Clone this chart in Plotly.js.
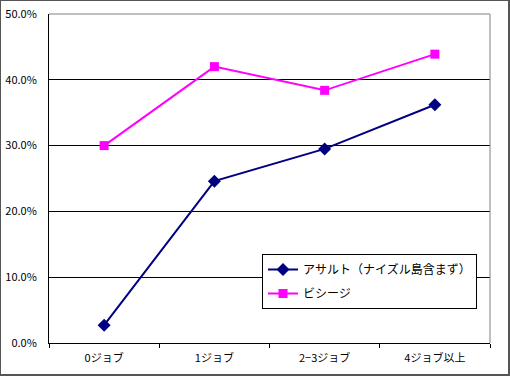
<!DOCTYPE html>
<html>
<head>
<meta charset="utf-8">
<script src="https://cdn.plot.ly/plotly-3.0.1.min.js"></script>
<style>
html,body{margin:0;padding:0;background:#fff;}
#wrap{position:relative;width:510px;height:376px;}
#chart{width:510px;height:376px;}
#frame{position:absolute;left:0;top:0;width:507px;height:373px;border:1px solid #555;border-right-width:2px;border-bottom-width:2px;pointer-events:none;}
</style>
</head>
<body>
<div id="wrap"><div id="chart"></div><div id="frame"></div></div>
<script>
const categories = ["0ジョブ", "1ジョブ", "2−3ジョブ", "4ジョブ以上"];
const assaultValues = [0.027, 0.246, 0.295, 0.362];
const siegeValues = [0.300, 0.420, 0.384, 0.439];
const seriesNames = ["アサルト（ナイズル島含まず）", "ビシージ"];
const yTickVals = [0, 0.1, 0.2, 0.3, 0.4, 0.5];

const font = "'Noto Sans CJK JP', 'DejaVu Sans', sans-serif";

const traces = [
  {
    x: categories, y: assaultValues, name: seriesNames[0], type: "scatter", mode: "lines+markers",
    legendgroup: "a",
    line: {color: "#000080", width: 2},
    marker: {symbol: "diamond", size: 10, color: "#000080"}
  },
  {
    x: categories, y: siegeValues, name: seriesNames[1], type: "scatter", mode: "lines+markers",
    legendgroup: "b",
    line: {color: "#FF00FF", width: 2},
    marker: {symbol: "square", size: 9, color: "#FF00FF"}
  }
];

const layout = {
  width: 510, height: 376,
  margin: {l: 49, r: 20, t: 14, b: 33, pad: 0},
  paper_bgcolor: "#fff", plot_bgcolor: "#fff",
  font: {family: font, size: 11, color: "#000"},
  showlegend: true,
  legend: {
    x: (262 - 49) / 441, y: (343 - 254) / 329, xanchor: "left", yanchor: "top",
    bgcolor: "#fff", bordercolor: "#000", borderwidth: 1,
    font: {family: font, size: 12, color: "#000"},
    tracegroupgap: 5, itemwidth: 30
  },
  xaxis: {
    type: "category", range: [-0.5, 3.5],
    showline: true, linecolor: "#000", linewidth: 1,
    ticks: "outside", ticklen: 4, tickcolor: "#000", tickson: "boundaries",
    showgrid: false, zeroline: false, fixedrange: true, ticklabelstandoff: 5,
    tickfont: {family: font, size: 11, color: "#000"}
  },
  yaxis: {
    range: [0, 0.5], tickvals: yTickVals, tickformat: ".1%",
    showline: true, linecolor: "#000", linewidth: 1,
    ticks: "", showgrid: true, gridcolor: "#000", gridwidth: 1,
    zeroline: false, fixedrange: true, ticklabelstandoff: 9,
    tickfont: {family: font, size: 11, color: "#000"}
  },
  shapes: [
    {type: "line", xref: "paper", yref: "paper", x0: 0, x1: 1, y0: 1, y1: 1, line: {color: "#808080", width: 1}},
    {type: "line", xref: "paper", yref: "paper", x0: 1, x1: 1, y0: 0, y1: 1, line: {color: "#808080", width: 1}}
  ]
};

Plotly.newPlot("chart", traces, layout, {displayModeBar: false, staticPlot: true});
</script>
</body>
</html>
